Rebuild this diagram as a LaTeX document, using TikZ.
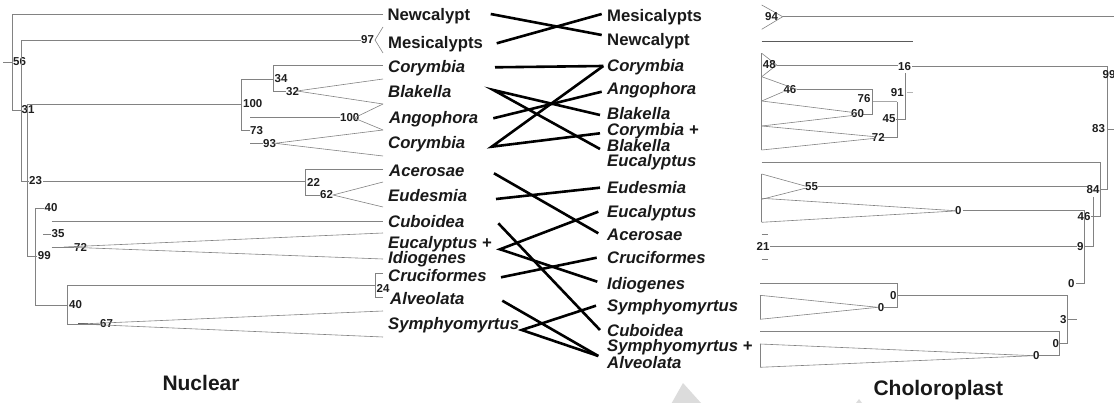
\documentclass[tikz,border=0pt]{standalone}
\usepackage{fontspec}
\setmainfont{Liberation Sans}
\definecolor{treegray}{RGB}{130,130,130}
\definecolor{darkline}{RGB}{90,90,90}
\definecolor{numcol}{RGB}{30,30,30}
\definecolor{wmark}{RGB}{220,220,220}
\tikzset{
  tl/.style={draw=treegray, line width=0.6pt},
  tg/.style={draw=black, line width=2.6pt},
  lab/.style={font=\fontsize{16.7}{18}\selectfont\bfseries, anchor=base west, inner sep=0pt, text=black!90},
  ilab/.style={font=\fontsize{16.7}{18}\selectfont\bfseries\itshape, anchor=base west, inner sep=0pt, text=black!90},
  num/.style={font=\fontsize{11.5}{12}\selectfont\bfseries, anchor=west, inner sep=0pt, text=numcol},
  ttl/.style={font=\fontsize{21}{24}\selectfont\bfseries, anchor=base west, inner sep=0pt, text=black!90}
}
\begin{document}
\begin{tikzpicture}[x=1pt,y=-1pt]
\useasboundingbox (0,0) rectangle (1114,403);
% watermark
\fill[wmark] (683,383) -- (671.7,403) -- (701,403) -- cycle;
\fill[wmark] (859,399) -- (856,403) -- (862,403) -- cycle;

% ================= Nuclear tree =================
\draw[tl] (3,62) -- (12,62);
\draw[tl] (383,14) -- (12,14) -- (12,110) -- (21,110);
\node[num] (n56) at (13,62) {56};
\node[num] (n31) at (21.5,110) {31};
\draw[tl] (361,40) -- (21,40) -- (21,181) -- (29,181);
\node[num] (n97) at (361,40) {97};
\draw[tl] (383,27) -- (375,40) -- (383,53);
\node[num] (n23) at (29,181) {23};
\draw[tl] (43,181) -- (305.7,181);
\draw[tl] (241.7,104) -- (27.7,104) -- (27.7,256) -- (37,256);
\node[num] (n99) at (37.7,256) {99};
\node[num] (n100a) at (243,104) {100};
\draw[tl] (273.3,79) -- (241.7,79) -- (241.7,130) -- (250,130);
\node[num] (n73) at (250,131) {73};
\draw[tl] (383,65) -- (273.3,65) -- (273.3,91) -- (286,91);
\node[num] (n34) at (274.5,79) {34};
\node[num] (n32) at (286,91.5) {32};
\draw[tl] (383,79) -- (297,91) -- (383,104);
\draw[tl] (250,117.7) -- (340,117.7);
\node[num] (n100b) at (340,118) {100};
\draw[tl] (383,104) -- (354,118) -- (383,130);
\draw[tl] (250,143.3) -- (263,143.3);
\node[num] (n93) at (263,143.5) {93};
\draw[tl] (383,130) -- (275,143.3) -- (383,156);
\draw[tl] (383,169) -- (305.7,169) -- (305.7,195) -- (320,195);
\node[num] (n22) at (307,182) {22};
\node[num] (n62) at (320,195) {62};
\draw[tl] (383,182) -- (333,195) -- (383,207);
\draw[tl] (44,208) -- (35.7,208) -- (35.7,305) -- (67.7,305);
\node[num] (n40a) at (44.5,208) {40};
\draw[tl] (51.7,221) -- (383,221);
\draw[tl] (43.3,234) -- (51,234);
\node[num] (n35) at (51.5,234) {35};
\draw[tl] (51.7,247) -- (74,247);
\node[num] (n72) at (74,247) {72};
\draw[tl] (383,233) -- (64,247) -- (383,259);
\node[num] (n40b) at (69,305) {40};
\draw[tl] (375.7,285.7) -- (67.7,285.7) -- (67.7,324) -- (100,324);
\draw[draw=darkline, line width=1pt] (78,324) -- (88,324);
\draw[tl] (383,273) -- (375.7,273) -- (375.7,297) -- (383,297);
\node[num] (n24) at (376.5,288) {24};
\node[num] (n67) at (100,324) {67};
\draw[tl] (383,311) -- (80,324) -- (383,337);

% ================= labels, nuclear side =================
\node[lab]  (lNew)  at (387.3,20.7) {Newcalypt};
\node[lab]  (lMes)  at (388,48.3)   {Mesicalypts};
\node[ilab] (lCo1)  at (388,72.7)   {Corymbia};
\node[ilab] (lBla)  at (388,97.7)   {Blakella};
\node[ilab] (lAng)  at (389,123.3)  {Angophora};
\node[ilab] (lCo2)  at (388,149)    {Corymbia};
\node[ilab] (lAce)  at (389,176.7)  {Acerosae};
\node[ilab] (lEud)  at (388,201.7)  {Eudesmia};
\node[ilab] (lCub)  at (388,227.7)  {Cuboidea};
\node[ilab, align=left, font=\fontsize{16.7}{15.7}\selectfont\bfseries\itshape] (lEuc) at (388,264) {Eucalyptus +\\Idiogenes};
\node[ilab] (lCru)  at (388,281.7)  {Cruciformes};
\node[ilab] (lAlv)  at (390,304.3)  {Alveolata};
\node[ilab] (lSym)  at (388,330)    {Symphyomyrtus};

% ================= labels, chloroplast side =================
\node[lab]  (rMes)  at (607,21.7)  {Mesicalypts};
\node[lab]  (rNew)  at (607,46)    {Newcalypt};
\node[ilab] (rCor)  at (607,71.7)  {Corymbia};
\node[ilab] (rAng)  at (607,94.3)  {Angophora};
\node[ilab] (rBla)  at (607,119.3) {Blakella};
\node[ilab, align=left, font=\fontsize{16.7}{14.7}\selectfont\bfseries\itshape] (rCB) at (607,166.7) {Corymbia +\\Blakella\\Eucalyptus};
\node[ilab] (rEud)  at (607,193.3) {Eudesmia};
\node[ilab] (rEu2)  at (607,217.7) {Eucalyptus};
\node[ilab] (rAce)  at (607,240.7) {Acerosae};
\node[ilab] (rCru)  at (607,263.3) {Cruciformes};
\node[ilab] (rIdi)  at (607,289.3) {Idiogenes};
\node[ilab] (rSym)  at (607,311.7) {Symphyomyrtus};
\node[ilab] (rCub)  at (607,336.7) {Cuboidea};
\node[ilab, align=left, font=\fontsize{16.7}{12.6}\selectfont\bfseries\itshape] (rSA) at (607,368.3) {Symphyomyrtus +\\Alveolata};

% ================= tangle connectors =================
\coordinate (aNew) at (490.7,14);   \coordinate (bNew) at (601.7,35);
\coordinate (aMes) at (496.7,43.3); \coordinate (bMes) at (601.7,14);
\coordinate (aCo1) at (495,67.3);   \coordinate (bCor) at (603.3,66);
\coordinate (aBla) at (493.3,90);   \coordinate (bBla) at (600,115);
\coordinate (bCB2) at (600,149);
\coordinate (aAng) at (493.3,118.3); \coordinate (bAng) at (601.7,91.7);
\coordinate (aCo2) at (491.7,146.7); \coordinate (bCB1) at (600,133.3);
\coordinate (aAce) at (494,173.3);  \coordinate (bAce) at (598.3,233.3);
\coordinate (aEud) at (496,199);    \coordinate (bEud) at (600,187.7);
\coordinate (aCub) at (498.3,223.3); \coordinate (bCub) at (600,330);
\coordinate (aEuc) at (500,249.3);  \coordinate (bEu2) at (598.3,211.7);
\coordinate (bIdi) at (597.3,281.7);
\coordinate (aCru) at (501,277.3);  \coordinate (bCru) at (596.7,257.7);
\coordinate (aAlv) at (502.3,300.7); \coordinate (bSA) at (598.3,356);
\coordinate (aSym) at (521.7,330);  \coordinate (bSym) at (596,305.7);

\draw[tg] (aNew) -- (bNew);
\draw[tg] (aMes) -- (bMes);
\draw[tg] (aCo1) -- (bCor);
\draw[tg] (bBla) -- (aBla) -- (bCB2);
\draw[tg] (aAng) -- (bAng);
\draw[tg] (bCor) -- (aCo2) -- (bCB1);
\draw[tg] (aAce) -- (bAce);
\draw[tg] (aEud) -- (bEud);
\draw[tg] (aCub) -- (bCub);
\draw[tg] (bEu2) -- (aEuc) -- (bIdi);
\draw[tg] (aCru) -- (bCru);
\draw[tg] (aAlv) -- (bSA);
\draw[tg] (bSym) -- (aSym) -- (bSA);

% ================= Chloroplast tree =================
\draw[tl] (761.7,5) -- (782.7,16.7) -- (761.7,29.3);
\node[num] (c94) at (765,16.7) {94};
\draw[tl] (782.7,16.7) -- (1114,16.7);
\draw[draw=darkline, line width=0.8pt] (761.7,41) -- (913.3,41);
\draw[tl] (761.7,53.3) -- (761.7,150);
\draw[tl] (761.7,53.3) -- (776.7,65) -- (761.7,76.7);
\node[num] (c48) at (762.7,65) {48};
\draw[tl] (776.7,65.5) -- (898,65.5);
\node[num] (c16) at (898,66.5) {16};
\draw[tl] (912,66.7) -- (1107.7,66.7) -- (1107.7,189.3) -- (1100,189.3);
\node[num] (c99) at (1102.5,74.3) {99};
\node[num] (c83) at (1092,129) {83};
\draw[tl] (1107.7,129) -- (1114,129);
\draw[tl] (905.7,73) -- (905.7,119) -- (896,119);
\node[num] (c91) at (890.7,92.3) {91};
\draw[draw=treegray!60, line width=0.8pt] (906.7,92.5) -- (913.3,92.5);
\node[num] (c45) at (882.5,119) {45};
\draw[tl] (883.3,137.7) -- (897.3,137.7) -- (897.3,101.7);
\draw[draw=treegray!70, line width=1.2pt] (873,101.7) -- (897.3,101.7);
\node[num] (c76) at (857.5,99) {76};
\draw[tl] (796.7,89.3) -- (872.7,89.3) -- (872.7,114) -- (863.3,114);
\node[num] (c46a) at (783.3,89.3) {46};
\draw[tl] (761.7,76.7) -- (796.7,89.3);
\draw[tl] (761.7,101) -- (783.3,91.7);
\node[num] (c60) at (851,114) {60};
\draw[tl] (761.7,101) -- (860,113.3);
\draw[tl] (761.7,126) -- (856.7,115);
\node[num] (c72) at (871.7,137.7) {72};
\draw[tl] (761.7,126) -- (875,136.7);
\draw[tl] (761.7,150) -- (875,138.3);
\draw[tl] (761.7,162.7) -- (1100.7,162.7) -- (1100.7,216) -- (1090.7,216);
\node[num] (c46b) at (1077.5,216.5) {46};
\draw[tl] (761.7,174) -- (761.7,222.3);
\draw[tl] (761.7,174) -- (805,186);
\draw[tl] (761.7,199.3) -- (805,188.3);
\node[num] (c55) at (805,186.7) {55};
\draw[tl] (818,186.7) -- (1086.7,186.7);
\node[num] (c84) at (1086.5,190) {84};
\draw[tl] (1093.3,197) -- (1093.3,246.7) -- (1084,246.7);
\node[num] (c9) at (1077,246.7) {9};
\draw[tl] (770,246.7) -- (1077,246.7);
\node[num] (c21) at (756.5,246.7) {21};
\draw[tl] (761.7,234) -- (768.3,234);
\draw[tl] (761.7,259.3) -- (768.3,259.3);
\draw[tl] (761.7,198.3) -- (955,210.7);
\draw[tl] (761.7,222.3) -- (955,211);
\node[num] (c0a) at (955,211) {0};
\draw[tl] (962.5,210.7) -- (1084.3,210.7) -- (1084.3,283.3) -- (1076,283.3);
\node[num] (c0b) at (1068,283.3) {0};
\draw[tl] (760,283.3) -- (897.7,283.3) -- (897.7,307.3) -- (884,307.3);
\node[num] (c0c) at (890,295.7) {0};
\draw[tl] (897.7,295.3) -- (1067.7,295.3) -- (1067.7,343.3) -- (1059.3,343.3);
\node[num] (c3) at (1060,319.3) {3};
\draw[tl] (1067.7,319.3) -- (1076.7,319.3);
\draw[tl] (760,295.3) -- (760,319.3);
\draw[tl] (760,295.3) -- (877.7,307.3);
\draw[tl] (760,319.3) -- (877.7,307.3);
\node[num] (c0d) at (877.7,307.3) {0};
\draw[tl] (760,331) -- (1059.3,331) -- (1059.3,355.7) -- (1039,355.7);
\node[num] (c0e) at (1052.5,343.3) {0};
\draw[tl] (760,344) -- (760,367.3);
\draw[tl] (760,344) -- (1033.3,355.7);
\draw[tl] (760,367.3) -- (1033.3,355.7);
\node[num] (c0f) at (1033,355.7) {0};

% ================= titles =================
\node[ttl] (tNuc) at (162.3,390) {Nuclear};
\node[ttl] (tChl) at (873.3,395) {Choloroplast};
\end{tikzpicture}
\end{document}
